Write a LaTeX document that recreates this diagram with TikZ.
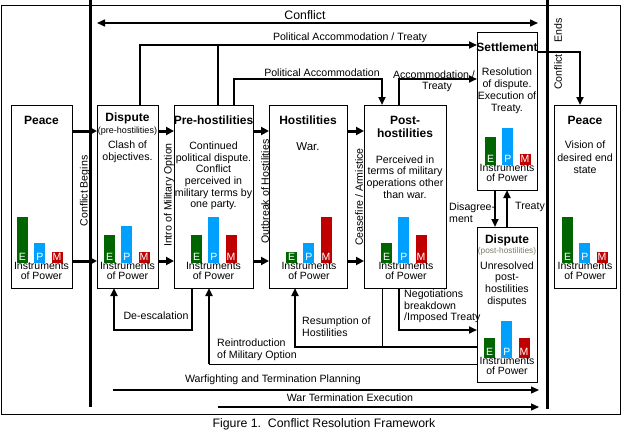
\documentclass[tikz,border=0pt]{standalone}
\usepackage{fontspec}
\setmainfont{Liberation Sans}
\usetikzlibrary{arrows.meta}
\definecolor{ecol}{RGB}{0,100,0}
\definecolor{pcol}{RGB}{0,160,255}
\definecolor{mcol}{RGB}{192,0,0}
\definecolor{subgray}{RGB}{125,125,105}
% #1 prefix, #2 x of E bar, #3 bottom y, #4 hE, #5 hP, #6 hM, #7 centre x of text
\newcommand{\ipow}[7]{%
  \fill[ecol] (#2,#3) rectangle ++(11,-#4);
  \fill[pcol] (#2+17.3,#3) rectangle ++(11,-#5);
  \fill[mcol] (#2+34.6,#3) rectangle ++(11,-#6);
  \node[ltr] (#1E) at (#2+5.5,#3-6.5) {E};
  \node[ltr] (#1P) at (#2+22.8,#3-6.5) {P};
  \node[ltr] (#1M) at (#2+40.1,#3-6.5) {M};
  \node[ins] (#1ins) at (#7,#3+8) {Instruments\\of Power};
}
\begin{document}
\begin{tikzpicture}[x=1pt,y=-1pt,
  >={Triangle[length=8pt,width=7pt]},
  box/.style={draw, line width=1pt, fill=white, inner sep=0pt, outer sep=0pt, anchor=north west},
  lab/.style={font=\fontsize{10.6}{11.6}\selectfont, inner sep=0pt, align=center},
  llab/.style={font=\fontsize{10.6}{11.6}\selectfont, inner sep=0pt, align=left, anchor=west},
  ins/.style={font=\fontsize{10.5}{10.5}\selectfont, inner sep=0pt, align=center},
  ttl/.style={font=\fontsize{12}{13}\selectfont\bfseries, inner sep=0pt, align=center},
  big/.style={font=\fontsize{12.3}{13}\selectfont, inner sep=0pt},
  ltr/.style={font=\fontsize{10.5}{10.5}\selectfont, text=white, inner sep=0pt},
  sub/.style={font=\fontsize{9}{9}\selectfont, inner sep=0pt},
  thk/.style={line width=3pt, -{Triangle[length=8pt,width=8pt]}},
  med/.style={line width=2pt},
  thn/.style={line width=1pt},
  sep/.style={line width=3pt},
]
\useasboundingbox (0,0) rectangle (623,436);

% frame and separators
\draw[line width=1pt] (1,6) rectangle (620,414);
\draw[sep] (90,0) -- (90,407);
\draw[sep] (547,0) -- (547,409);

% boxes
\node[box, minimum width=61pt, minimum height=183pt] (peaceL) at (11,105) {};
\node[box, minimum width=61pt, minimum height=183pt] (disA) at (97,105) {};
\node[box, minimum width=79pt, minimum height=183pt] (preH) at (174,105) {};
\node[box, minimum width=78pt, minimum height=183pt] (host) at (269,105) {};
\node[box, minimum width=82pt, minimum height=183pt] (post) at (364,105) {};
\node[box, minimum width=60pt, minimum height=157pt] (settle) at (477,33) {};
\node[box, minimum width=60pt, minimum height=155pt] (disB) at (477,227) {};
\node[box, minimum width=62pt, minimum height=183pt] (peaceR) at (554,105) {};

% helper coordinates
\coordinate (cL) at (97,23);
\coordinate (cR) at (538,23);
\coordinate (pat1) at (140,45);
\coordinate (pat2) at (218,45);
\coordinate (pa1) at (234,79);
\coordinate (pa2) at (382,79);
\coordinate (at1) at (399,79);
\coordinate (se1) at (580,52);
\coordinate (r1) at (0,131);
\coordinate (r2) at (0,261);
\coordinate (d1) at (495,0);
\coordinate (t1) at (507,0);
\coordinate (de1) at (192,330);
\coordinate (de2) at (114,330);
\coordinate (ri) at (209,364);
\coordinate (rs) at (295,347);
\coordinate (ng) at (399,330);
\coordinate (wf1) at (113,390);
\coordinate (wf2) at (539,390);
\coordinate (we1) at (218,407);
\coordinate (we2) at (539,407);

% connectors
\draw[line width=1.5pt,<->] (cL) -- (cR);
\draw[med,->] (disA.north -| pat1) -- (pat1) -- (settle.west |- pat1);
\draw[med] (preH.north -| pat2) -- (pat2);
\draw[med,->] (preH.north -| pa1) -- (pa1) -- (pa2) -- (post.north -| pa2);
\draw[med,->] (post.north -| at1) -- (at1) -- (settle.west |- at1);
\draw[med,->] (settle.east |- se1) -- (se1) -- (peaceR.north -| se1);

\draw[thk] (peaceL.east |- r1) -- (disA.west |- r1);
\draw[thk] (disA.east |- r1) -- (preH.west |- r1);
\draw[thk] (preH.east |- r1) -- (host.west |- r1);
\draw[thk] (host.east |- r1) -- (post.west |- r1);
\draw[thk] (peaceL.east |- r2) -- (disA.west |- r2);
\draw[thk] (disA.east |- r2) -- (preH.west |- r2);
\draw[thk] (preH.east |- r2) -- (host.west |- r2);
\draw[thk] (host.east |- r2) -- (post.west |- r2);

\draw[med,->] (settle.south -| d1) -- (disB.north -| d1);
\draw[med,->] (disB.north -| t1) -- (settle.south -| t1);

\draw[med,->] (preH.south -| de1) -- (de1) -- (de2) -- (disA.south -| de2);
\draw[thn] (disB.west |- ri) -- (ri);
\draw[med,->] (ri) -- (preH.south -| ri);
\draw[med,->] (disB.west |- rs) -- (rs) -- (host.south -| rs);
\draw[thn] (post.south -| pa2) -- (pa2 |- rs);
\draw[med,->] (post.south -| ng) -- (ng) -- (disB.west |- ng);

\draw[line width=1.2pt,->] (wf1) -- (wf2);
\draw[line width=1.2pt,->] (we1) -- (we2);

% box texts
\node[ttl] (tPeaceL) at (41.5,120) {Peace};
\node[ttl] (tDisA) at (127.5,118) {Dispute};
\node[sub] (sDisA) at (127.5,131) {(pre-hostilities)};
\node[lab] (xDisA) at (127.5,151.5) {Clash of\\objectives.};
\node[ttl] (tPreH) at (213.5,120) {Pre-hostilities};
\node[lab] (xPreH) at (213.5,176) {Continued\\political dispute.\\Conflict\\perceived in\\military terms by\\one party.};
\node[ttl] (tHost) at (308,120) {Hostilities};
\node[font=\fontsize{11.5}{12}\selectfont, inner sep=0pt] (xHost) at (308,147) {War.};
\node[ttl] (tPost) at (405,126.5) {Post-\\hostilities};
\node[lab] (xPost) at (405,177) {Perceived in\\terms of military\\operations other\\than war.};
\node[ttl] (tSettle) at (507,47) {Settlement};
\node[font=\fontsize{10.6}{12}\selectfont, inner sep=0pt, align=center] (xSettle) at (507,91) {Resolution\\of dispute.\\Execution of\\Treaty.};
\node[ttl] (tDisB) at (507,240) {Dispute};
\node[font=\fontsize{8.3}{9}\selectfont, inner sep=0pt, text=subgray] (sDisB) at (507,251.5) {(post-hostilities)};
\node[lab] (xDisB) at (507,284) {Unresolved\\post-\\hostilities\\disputes};
\node[ttl] (tPeaceR) at (585,120) {Peace};
\node[font=\fontsize{10.6}{12.5}\selectfont, inner sep=0pt, align=center] (xPeaceR) at (585,157.5) {Vision of\\desired end\\state};

% instruments of power
\ipow{pl}{17}{263}{46}{20}{11}{41.5}
\ipow{da}{104}{263}{28}{37}{11}{127.5}
\ipow{ph}{191}{263}{28}{46}{28}{213.5}
\ipow{ho}{286}{263}{11}{20}{46}{309}
\ipow{po}{381}{263}{20}{46}{28}{406}
\ipow{se}{485}{165}{28}{37}{11}{507}
\ipow{db}{484}{358}{20}{37}{20}{507}
\ipow{pr}{562}{263}{46}{20}{11}{585}

% connector labels
\node[big] (lConflict) at (305,15) {Conflict};
\node[lab] (lPAT) at (350,38) {Political Accommodation / Treaty};
\node[lab] (lPA) at (322,73) {Political Accommodation};
\node[lab] (lAT1) at (434,74.5) {Accommodation /};
\node[lab] (lAT2) at (437,87) {Treaty};
\node[lab, rotate=90] (lEnds) at (558,30) {Ends};
\node[lab, rotate=90] (lCE) at (558,72) {Conflict};
\node[lab, rotate=90] (lCB) at (85,191) {Conflict Begins};
\node[lab, rotate=90] (lIMO) at (169,195) {Intro of Military Option};
\node[lab, rotate=90] (lOH) at (265,191.5) {Outbreak of Hostilities};
\node[lab, rotate=90] (lCA) at (359,197) {Ceasefire / Armistice};
\node[llab] (lDis) at (449,212.5) {Disagree-\\ment};
\node[lab] (lTr) at (530,207) {Treaty};
\node[lab] (lDe) at (156,316) {De-escalation};
\node[llab] (lRe) at (217,350) {Reintroduction\\of Military Option};
\node[llab] (lRs) at (302,326.5) {Resumption of\\Hostilities};
\node[llab] (lNg) at (404,306.5) {Negotiations\\breakdown\\/Imposed Treaty};
\node[lab] (lWf) at (273,380) {Warfighting and Termination Planning};
\node[lab] (lWe) at (350,398) {War Termination Execution};
\node[big] (cap) at (324,424) {Figure 1.\ \ Conflict Resolution Framework};
\end{tikzpicture}
\end{document}
